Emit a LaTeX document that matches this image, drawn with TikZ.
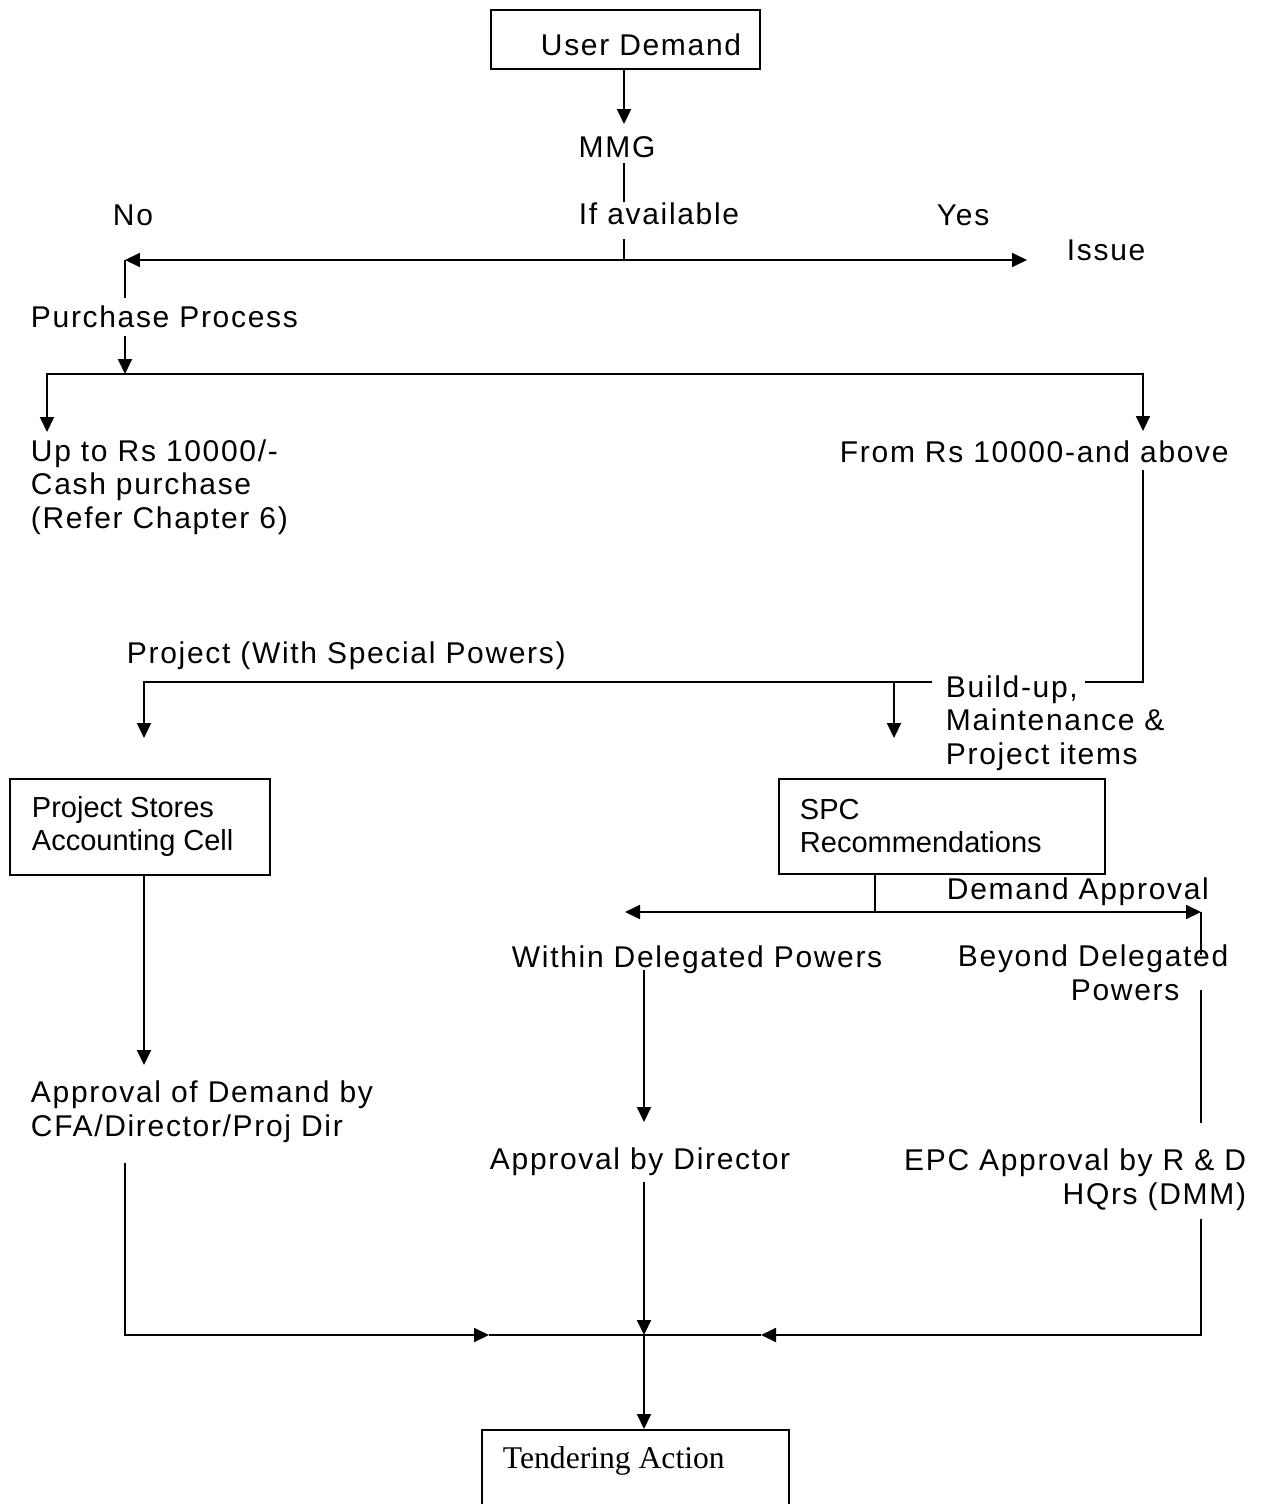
\documentclass[tikz,border=0pt]{standalone}
\usepackage{fontspec}
\usepackage{tikz}
\usetikzlibrary{positioning,arrows.meta}
\newfontfamily\lblfont[LetterSpace=5.6]{Liberation Sans}
\newfontfamily\boxfont{Liberation Sans}
\newfontfamily\tendfont{Liberation Serif}

\begin{document}
\begin{tikzpicture}[x=0.02cm,y=-0.02cm,line width=1.1pt,>={Triangle[length=0.3cm,width=0.28cm]}]
\tikzstyle{every node}+=[inner sep=0pt]
\tikzstyle{lbl}=[font=\lblfont\fontsize{17.07pt}{18.8pt}\selectfont]
\tikzstyle{box}=[draw, font=\boxfont\fontsize{16.5pt}{18.8pt}\selectfont, align=flush left, anchor=north west]
\useasboundingbox (0,0) rectangle (1263,1504);
\node[box, lbl, inner xsep=0pt, text width=5.38cm, text height=0.92cm, text depth=0.26cm] (user) at (490,9) {\hspace*{1cm}User Demand};
\node[box, inner xsep=0.44cm, text width=4.32cm, minimum height=1.92cm] (psac) at (9,778) {Project Stores\\Accounting Cell};
\node[box, inner xsep=0.42cm, text width=5.68cm, minimum height=1.9cm] (spc) at (778,778) {SPC\\Recommendations};
\node[box, font=\tendfont\fontsize{18pt}{21pt}\selectfont, inner xsep=0.42cm, text width=5.3cm, text height=0.78cm, text depth=1.44cm] (tend) at (481,1429) {Tendering Action};
\node[lbl, anchor=base] (mmg) at (617,157) {MMG};
\node[lbl, anchor=base west] (avail) at (578,224) {If available};
\node[lbl, anchor=base west] (no) at (112,225) {No};
\node[lbl, anchor=base west] (yes) at (936,225) {Yes};
\node[lbl, anchor=base west] (issue) at (1066,260) {Issue};
\node[lbl, anchor=base west] (purch) at (30,327) {Purchase Process};
\node[lbl, anchor=base west, align=left] (upto) at (30,528) {Up to Rs 10000/-\\Cash purchase\\(Refer Chapter 6)};
\node[lbl, anchor=base west] (from) at (839,462) {From Rs 10000-and above};
\node[lbl, anchor=base west] (proj) at (126,663) {Project (With Special Powers)};
\node[lbl, anchor=base west, align=left] (build) at (945,764) {Build-up,\\Maintenance \&\\Project items};
\node[lbl, anchor=base west] (demappr) at (946,899) {Demand Approval};
\node[lbl, anchor=base west] (within) at (511,967) {Within Delegated Powers};
\node[lbl, anchor=base west, align=left] (beyond) at (957,1000) {Beyond Delegated\\\hspace*{2.26cm}Powers};
\node[lbl, anchor=base west, align=left] (apprdem) at (30,1136) {Approval of Demand by\\CFA/Director/Proj Dir};
\node[lbl, anchor=base west] (apprdir) at (489,1169) {Approval by Director};
\node[lbl, anchor=base east, align=right] (epc) at (1247,1204) {EPC Approval by R \& D\\HQrs (DMM)};
\coordinate (c1) at (624,124);
\coordinate (c2) at (624,163);
\coordinate (c3) at (624,202);
\coordinate (c4) at (624,239);
\coordinate (sp1) at (624,260);
\coordinate (nol) at (125,260);
\coordinate (yesr) at (1027,260);
\coordinate (c5) at (125,298);
\coordinate (c6) at (125,336);
\coordinate (sp2) at (125,374);
\coordinate (l1) at (47,374);
\coordinate (l1t) at (47,432);
\coordinate (r1) at (1143,374);
\coordinate (r1t) at (1143,431);
\coordinate (c7) at (1143,470);
\coordinate (r2) at (1143,682);
\coordinate (c8) at (1085,682);
\coordinate (c9) at (932,682);
\coordinate (l2) at (144,682);
\coordinate (l2t) at (144,738);
\coordinate (m2) at (894,682);
\coordinate (m2t) at (894,738);
\coordinate (c11) at (144,1065);
\coordinate (sp3) at (875,912);
\coordinate (wl) at (625,912);
\coordinate (bd) at (1201,912);
\coordinate (c12) at (1201,955);
\coordinate (c13) at (1201,990);
\coordinate (c14) at (1201,1123);
\coordinate (c15) at (1201,1219);
\coordinate (c16) at (1201,1335);
\coordinate (rt) at (761,1335);
\coordinate (c17) at (644,970);
\coordinate (c18) at (644,1122);
\coordinate (c19) at (644,1182);
\coordinate (sp4) at (644,1335);
\coordinate (c20) at (125,1163);
\coordinate (c21) at (125,1335);
\coordinate (lt) at (489,1335);
\draw[->] (user.south -| c1) -- (c1);
\draw (c2) -- (c3);
\draw (c4) -- (sp1);
\draw[->] (sp1) -- (nol);
\draw[->] (sp1) -- (yesr);
\draw (nol) -- (c5);
\draw[->] (c6) -- (sp2);
\draw[<->] (l1t) -- (l1) -- (r1) -- (r1t);
\draw (c7) -- (r2) -- (c8);
\draw[->] (c9) -- (l2) -- (l2t);
\draw[->] (m2) -- (m2t);
\draw[->] (psac.south -| l2) -- (c11);
\draw (spc.south -| sp3) -- (sp3);
\draw[<->] (wl) -- (bd);
\draw (bd) -- (c12);
\draw (c13) -- (c14);
\draw[->] (c15) -- (c16) -- (rt);
\draw[->] (c17) -- (c18);
\draw[->] (c19) -- (sp4);
\draw[->] (sp4) -- (tend.north -| sp4);
\draw[->] (c20) -- (c21) -- (lt);
\draw (lt) -- (rt);
\end{tikzpicture}
\end{document}
